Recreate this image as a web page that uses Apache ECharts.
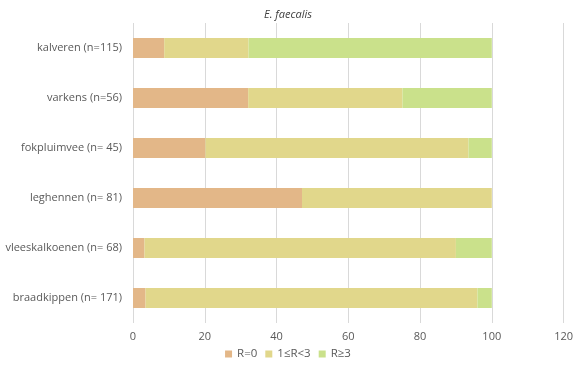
<!DOCTYPE html>
<html>
<head>
<meta charset="utf-8">
<script src="https://cdn.jsdelivr.net/npm/echarts@6/dist/echarts.min.js"></script>
<style>html,body{margin:0;padding:0;background:#fff}#c{width:576px;height:365px}</style>
</head>
<body>
<div id="c"></div>
<script>
const categories = ['kalveren (n=115)', 'varkens (n=56)', 'fokpluimvee (n= 45)', 'leghennen (n= 81)', 'vleeskalkoenen (n= 68)', 'braadkippen (n= 171)'];
const r0 = [8.7, 32.1, 20.2, 47.1, 3.2, 3.5];
const r1to3 = [23.5, 43.0, 73.3, 52.9, 86.8, 92.5];
const r3plus = [67.8, 24.9, 6.5, 0, 10.0, 4.0];
const xTicks = [0, 20, 40, 60, 80, 100, 120];

const font = '"Open Sans", "Noto Sans", sans-serif';
const chart = echarts.init(document.getElementById('c'), null, {renderer: 'canvas'});
chart.setOption({
  animation: false,
  title: {
    text: 'E. faecalis', left: 'center', top: 4,
    textStyle: {fontSize: 11, fontStyle: 'italic', fontWeight: 'normal', color: '#404040', fontFamily: font}
  },
  legend: {
    bottom: 0, left: 'center', itemWidth: 7, itemHeight: 7, itemGap: 8,
    icon: 'rect',
    textStyle: {fontSize: 11.5, color: '#595959', fontFamily: font}
  },
  grid: {left: 133, right: 10, top: 23, bottom: 42, containLabel: false},
  xAxis: {
    type: 'value', min: xTicks[0], max: xTicks[xTicks.length - 1], interval: 20,
    axisLine: {show: false}, axisTick: {show: false},
    splitLine: {lineStyle: {color: '#d9d9d9', width: 1}},
    axisLabel: {fontSize: 11, color: '#595959', fontFamily: font, margin: 8}
  },
  yAxis: {
    type: 'category', data: categories, inverse: true,
    axisLine: {show: false}, axisTick: {show: false},
    axisLabel: {fontSize: 11, color: '#595959', fontFamily: font, margin: 11}
  },
  series: [
    {name: 'R=0', type: 'bar', stack: 's', data: r0, barWidth: 20, itemStyle: {color: '#E3B788'}},
    {name: '1≤R<3', type: 'bar', stack: 's', data: r1to3, barWidth: 20, itemStyle: {color: '#E1D78B'}},
    {name: 'R≥3', type: 'bar', stack: 's', data: r3plus, barWidth: 20, itemStyle: {color: '#CAE18B'}}
  ]
});
</script>
</body>
</html>
